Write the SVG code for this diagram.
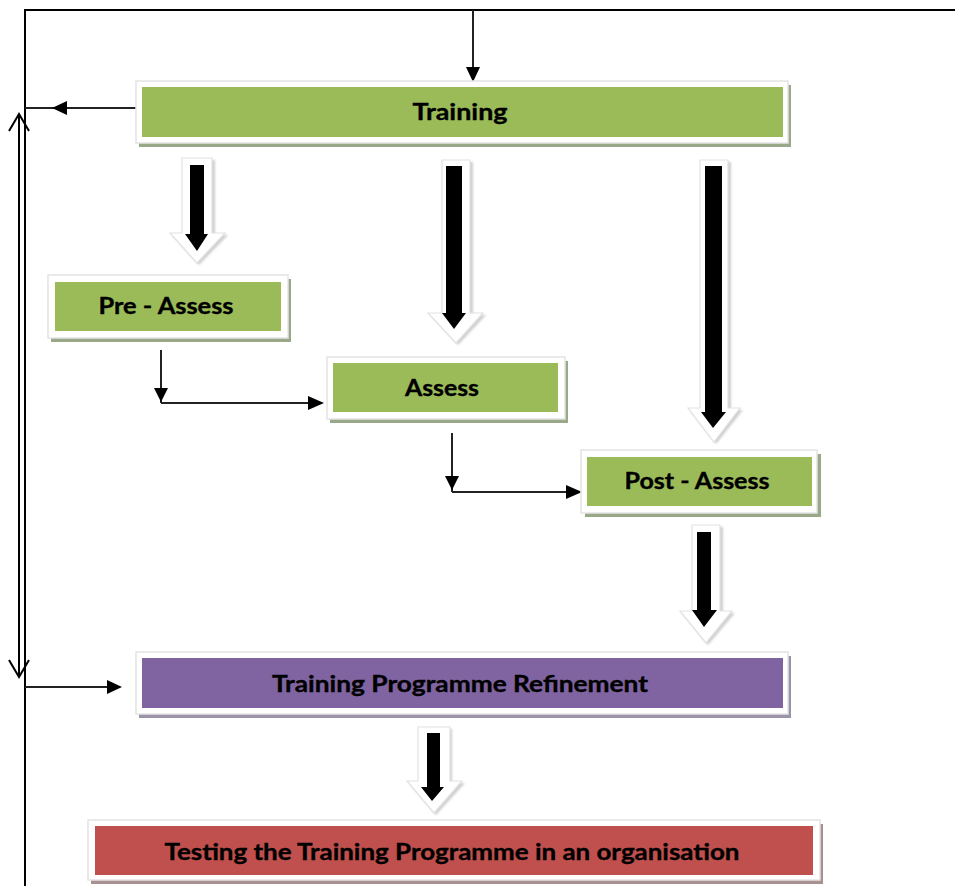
<svg xmlns="http://www.w3.org/2000/svg" width="955" height="886" viewBox="0 0 955 886">
  <defs>
    <style>
      .frame { stroke: #000; stroke-width: 2; fill: none; }
      .conn { stroke: #222; stroke-width: 2; fill: none; }
      .head { fill: #000; }
      .open { stroke: #000; stroke-width: 2; fill: none; }
      .plate { fill: #fff; stroke: #e4e4e4; stroke-width: 1.5; }
      .label { font-family: Lato, "Open Sans", "Liberation Sans", sans-serif; font-weight: 700; font-size: 22px; fill: #000; stroke: #000; stroke-width: 0.35; text-anchor: middle; }
      .g { fill: #9BBB59; }
      .p { fill: #8064A2; }
      .r { fill: #C0504D; }
      .gs { fill: #9aa88a; }
      .ps { fill: #9b94a8; }
      .rs { fill: #a89090; }
      .bshadow { fill: #cfcfcf; }
      .bwhite { fill: #fff; stroke: #e2e2e2; stroke-width: 1.2; }
      .bblack { fill: #000; }
    </style>
    <filter id="soft" x="-10%" y="-10%" width="120%" height="120%">
      <feGaussianBlur stdDeviation="1"/>
    </filter>
  </defs>

  <!-- outer frame and connector lines -->
  <g id="connectors">
    <path class="frame" d="M25,886 V10 H955"/>
    <!-- feed into Training from the top -->
    <line class="conn" x1="473" y1="10" x2="473" y2="68"/>
    <polygon class="head" points="466,67 480,67 473,82"/>
    <!-- Training back to the frame -->
    <line class="conn" x1="137" y1="108" x2="25" y2="108"/>
    <polygon class="head" points="67,101 67,115 52,108"/>
    <!-- double-headed return arrow -->
    <line class="open" x1="19" y1="114" x2="19" y2="677"/>
    <polyline class="open" points="9,131 19,114 29,131"/>
    <polyline class="open" points="9,660 19,677 29,660"/>
    <!-- frame into Refinement -->
    <line class="conn" x1="25" y1="687" x2="109" y2="687"/>
    <polygon class="head" points="107,680 107,694 122,687"/>
    <!-- Pre-Assess to Assess -->
    <line class="conn" x1="161" y1="350" x2="161" y2="403"/>
    <polygon class="head" points="154,388 168,388 161,402"/>
    <line class="conn" x1="161" y1="403" x2="310" y2="403"/>
    <polygon class="head" points="308,396 308,410 324,403"/>
    <!-- Assess to Post-Assess -->
    <line class="conn" x1="452" y1="433" x2="452" y2="492"/>
    <polygon class="head" points="445,476 459,476 452,490"/>
    <line class="conn" x1="452" y1="492" x2="568" y2="492"/>
    <polygon class="head" points="566,485 566,499 582,492"/>

    <!-- block arrows -->
    <g id="block-arrows">
      <!-- Training to Pre-Assess -->
      <g>
        <path class="bshadow" filter="url(#soft)" d="M185,160 H215 V235 H228 L199,265 L172,235 H185 Z"/>
        <path class="bwhite" d="M182,158 H212 V233 H225 L197,263 L170,233 H182 Z"/>
        <path class="bblack" d="M190,165 H204 V234 H208 L197,251 L185,234 H190 Z"/>
      </g>
      <!-- Training to Assess -->
      <g>
        <path class="bshadow" filter="url(#soft)" d="M444,162 H473 V315 H486 L458,345 L431,315 H444 Z"/>
        <path class="bwhite" d="M442,160 H470 V313 H483 L456,343 L428,313 H442 Z"/>
        <path class="bblack" d="M446,166 H462 V313 H466 L454,329 L442,313 H446 Z"/>
      </g>
      <!-- Training to Post-Assess -->
      <g>
        <path class="bshadow" filter="url(#soft)" d="M702,162 H731 V410 H743 L716,444 L690,410 H702 Z"/>
        <path class="bwhite" d="M700,160 H728 V408 H740 L714,442 L688,408 H700 Z"/>
        <path class="bblack" d="M705,166 H722 V412 H726 L713,428 L701,412 H705 Z"/>
      </g>
      <!-- Post-Assess to Refinement -->
      <g>
        <path class="bshadow" filter="url(#soft)" d="M694,527 H723 V613 H735 L708,645 L682,613 H694 Z"/>
        <path class="bwhite" d="M692,525 H720 V611 H732 L706,643 L680,611 H692 Z"/>
        <path class="bblack" d="M697,532 H711 V610 H717 L704,627 L692,610 H697 Z"/>
      </g>
      <!-- Refinement to Testing -->
      <g>
        <path class="bshadow" filter="url(#soft)" d="M420,729 H452 V783 H465 L436,815 L409,783 H420 Z"/>
        <path class="bwhite" d="M418,727 H450 V781 H462 L434,813 L407,781 H418 Z"/>
        <path class="bblack" d="M427,733 H440 V787 H444 L432,801 L421,787 H427 Z"/>
      </g>
    </g>
  </g>

  <!-- process boxes -->
  <g id="training">
    <rect class="gs" x="139" y="85" width="652" height="62"/>
    <rect class="plate" x="136" y="81" width="652" height="62"/>
    <rect class="g" x="142" y="87" width="641" height="50"/>
    <text class="label" x="460" y="120" textLength="95" lengthAdjust="spacingAndGlyphs">Training</text>
  </g>

  <g id="pre-assess">
    <rect class="gs" x="51" y="279" width="240" height="63"/>
    <rect class="plate" x="48" y="275" width="240" height="63"/>
    <rect class="g" x="55" y="282" width="226" height="49"/>
    <text class="label" x="166" y="314" textLength="135" lengthAdjust="spacingAndGlyphs">Pre - Assess</text>
  </g>

  <g id="assess">
    <rect class="gs" x="330" y="361" width="238" height="62"/>
    <rect class="plate" x="327" y="357" width="238" height="62"/>
    <rect class="g" x="333" y="363" width="225" height="49"/>
    <text class="label" x="442" y="396" textLength="74" lengthAdjust="spacingAndGlyphs">Assess</text>
  </g>

  <g id="post-assess">
    <rect class="gs" x="585" y="454" width="236" height="63"/>
    <rect class="plate" x="581" y="450" width="236" height="63"/>
    <rect class="g" x="587" y="457" width="225" height="49"/>
    <text class="label" x="697" y="489" textLength="145" lengthAdjust="spacingAndGlyphs">Post - Assess</text>
  </g>

  <g id="refinement">
    <rect class="ps" x="139" y="656" width="652" height="62"/>
    <rect class="plate" x="136" y="652" width="652" height="62"/>
    <rect class="p" x="142" y="658" width="641" height="50"/>
    <text class="label" x="460" y="692" textLength="376" lengthAdjust="spacingAndGlyphs">Training Programme Refinement</text>
  </g>

  <g id="testing">
    <rect class="rs" x="91" y="824" width="732" height="60"/>
    <rect class="plate" x="88" y="820" width="732" height="60"/>
    <rect class="r" x="95" y="826" width="718" height="49"/>
    <text class="label" x="452" y="860" textLength="575" lengthAdjust="spacingAndGlyphs">Testing the Training Programme in an organisation</text>
  </g>
</svg>
